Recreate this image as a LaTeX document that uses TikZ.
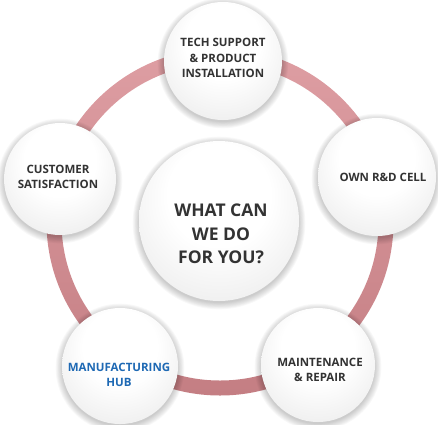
\documentclass[tikz,border=0pt]{standalone}
\usepackage{fontspec}
\setmainfont{Open Sans}
\definecolor{txt}{RGB}{51,51,51}
\definecolor{hub}{RGB}{30,105,180}
\definecolor{ringtop}{RGB}{222,158,163}
\definecolor{ringbot}{RGB}{196,126,131}
\pgfdeclareradialshading{bubble}{\pgfpoint{0bp}{12bp}}{color(0bp)=(white); color(16bp)=(white); color(40bp)=(black!10); color(50bp)=(black!20)}
\newcommand\bubbleshadow[2]{\foreach \k in {0,...,7}{\fill[black,opacity=0.028] ([yshift=-2pt]#1) circle ({#2+\k*0.9pt});}}
\tikzset{
  bubble/.style={circle, shading=bubble, inner sep=0pt},
  lbl/.style={align=center, text=txt, font=\bfseries\fontsize{11.5}{15.5}\selectfont},
  biglbl/.style={align=center, text=txt, font=\bfseries\fontsize{17.5}{23.5}\selectfont}
}
\begin{document}
\begin{tikzpicture}[x=1pt,y=-1pt]
\useasboundingbox (0,0) rectangle (438,424);
\coordinate (ringc) at (220,222);
\coordinate (ctop) at (223,61);
\coordinate (cleft) at (60,179);
\coordinate (cright) at (377,177);
\coordinate (cbl) at (120,366);
\coordinate (cbr) at (318,365);
\coordinate (cmid) at (219,221);
% ring
\shade[top color=ringtop, bottom color=ringbot, even odd rule] (ringc) circle (173.5pt) (ringc) circle (158.5pt);
% shadows
\bubbleshadow{ctop}{59pt}
\bubbleshadow{cleft}{56pt}
\bubbleshadow{cright}{59pt}
\bubbleshadow{cbl}{58pt}
\bubbleshadow{cbr}{57pt}
\bubbleshadow{cmid}{80pt}
% circles
\node[bubble, minimum size=118pt] (top) at (ctop) {};
\node[bubble, minimum size=112pt] (left) at (cleft) {};
\node[bubble, minimum size=118pt] (right) at (cright) {};
\node[bubble, minimum size=116pt] (bl) at (cbl) {};
\node[bubble, minimum size=114pt] (br) at (cbr) {};
\node[bubble, minimum size=160pt] (mid) at (cmid) {};
% labels
\node[lbl] (toptext) at (223,58) {TECH SUPPORT\\\& PRODUCT\\INSTALLATION};
\node[lbl] (lefttext) at (58,177) {CUSTOMER\\SATISFACTION};
\node[lbl] (righttext) at (383,177) {OWN R\&D CELL};
\node[lbl, text=hub] (bltext) at (119,375) {MANUFACTURING\\HUB};
\node[lbl] (brtext) at (320,370) {MAINTENANCE\\\& REPAIR};
\node[biglbl] (midtext) at (221,234) {WHAT CAN\\WE DO\\FOR YOU?};
\end{tikzpicture}
\end{document}
